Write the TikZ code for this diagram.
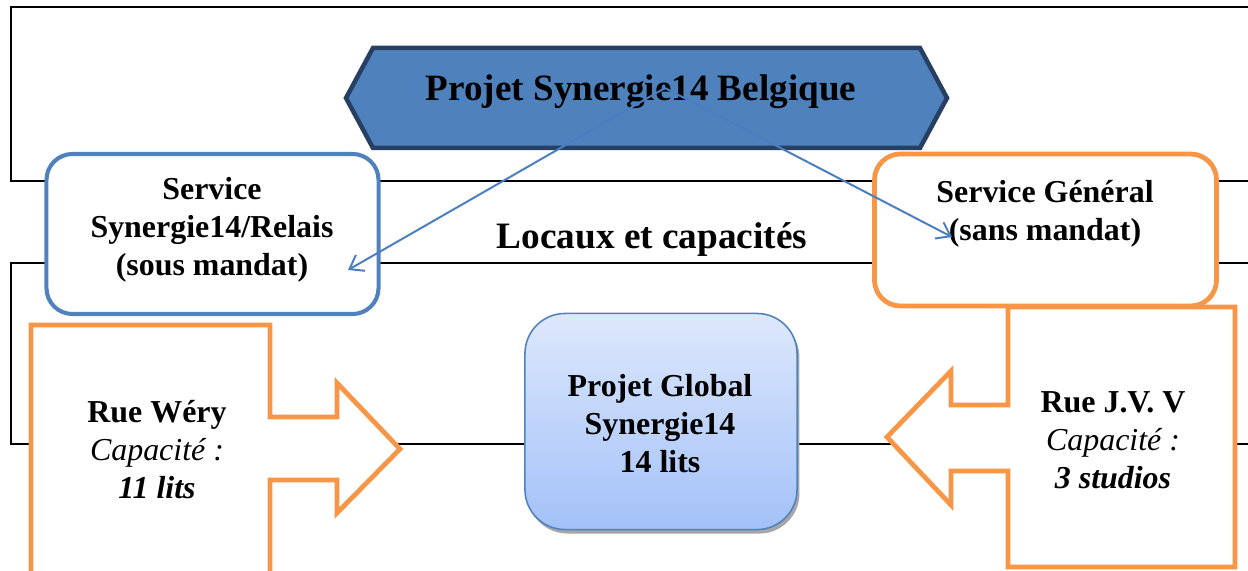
\documentclass[tikz,border=0pt]{standalone}
\usepackage{fontspec}
\setmainfont{Liberation Serif}
\usepackage{tikz}
\usetikzlibrary{positioning,arrows.meta,shadows}
\definecolor{accblue}{HTML}{4F81BD}
\definecolor{linkblue}{HTML}{4A7EC0}
\definecolor{hexline}{HTML}{263F63}
\definecolor{accorange}{HTML}{F79646}
\definecolor{globtop}{HTML}{DDE8FC}
\definecolor{globbot}{HTML}{A3C1F8}
\tikzset{frame/.style={draw=black, line width=1.2pt}}
\tikzset{svcbox/.style={draw=#1, line width=2.9pt, fill=white, rounded corners=0.65cm, inner sep=0pt},
svcbox/.default={accblue}}
\tikzset{sitearrow/.style={draw=accorange, line width=3.4pt, fill=white, line join=miter}}
\tikzset{txt/.style={align=center, inner sep=0pt, font=\fontsize{22.7}{27}\selectfont\bfseries}}
\tikzset{link/.style={draw=linkblue, line width=1.4pt, -{Straight Barb[length=9pt,width=13pt]}}}

\begin{document}
\begin{tikzpicture}[x=0.025cm, y=-0.025cm]
	\clip (0,0) rectangle (1248,571);
	\fill[white] (0,0) rectangle (1248,571);
	% frames
	\draw[frame] (11,7) rectangle (1270,181);
	\draw[frame] (11,263) rectangle (1270,444);
	% banner
	\draw[fill=accblue, draw=hexline, line width=3.2pt, line join=miter]
		(346,98) -- (373,48) -- (920,48) -- (947,98) -- (920,148) -- (373,148) -- cycle;
	\node[txt, font=\fontsize{26.4}{30}\selectfont\bfseries] (belgique) at (641,92) {Projet Synergie14 Belgique};
	\node[txt, font=\fontsize{26.5}{30}\selectfont\bfseries] (locaux) at (652,240) {Locaux et capacités};
	% services
	\node[svcbox, minimum width=8.3cm, minimum height=4cm] (relais) at (212.5,234) {};
	\node[txt] (relaistxt) at (212,230) {Service\\Synergie14/Relais\\(sous mandat)};
	\node[svcbox=accorange, line width=3.4pt, minimum width=8.55cm, minimum height=3.8cm] (general) at (1045.5,230) {};
	\node[txt] (generaltxt) at (1045,214) {Service Général\\(sans mandat)};
	% sites
	\draw[sitearrow] (31,325) -- (270,325) -- (270,417) -- (337,417) -- (337,383) -- (400,449)
		-- (337,513) -- (337,480) -- (270,480) -- (270,620) -- (31,620) -- cycle;
	\node[txt] (wery) at (157,450) {Rue Wéry\\{\mdseries\itshape Capacité :}\\{\itshape 11 lits}};
	\draw[sitearrow] (1008,307) -- (1235,307) -- (1235,567) -- (1008,567) -- (1008,471) -- (951,471)
		-- (951,505) -- (887,437) -- (951,371) -- (951,405) -- (1008,405) -- cycle;
	\node[txt] (jvv) at (1113,440) {Rue J.V. V\\{\mdseries\itshape Capacité :}\\{\itshape 3 studios}};
	% global
	\node[draw=accblue, line width=1.1pt, rounded corners=1cm, top color=globtop, bottom color=globbot,
		minimum width=6.8cm, minimum height=5.4cm,
		drop shadow={shadow xshift=0.06cm, shadow yshift=-0.1cm, fill=gray!70, opacity=1}] (global) at (661,421.5) {};
	\node[txt] (globaltxt) at (660,424) {Projet Global\\Synergie14\\14 lits};
	% links
	\coordinate (hub) at (665,88);
	\coordinate (relaisend) at (348,270);
	\coordinate (generalend) at (952,237);
	\draw[link] (hub) -- (relaisend);
	\draw[link] (hub) -- (generalend);
\end{tikzpicture}
\end{document}
